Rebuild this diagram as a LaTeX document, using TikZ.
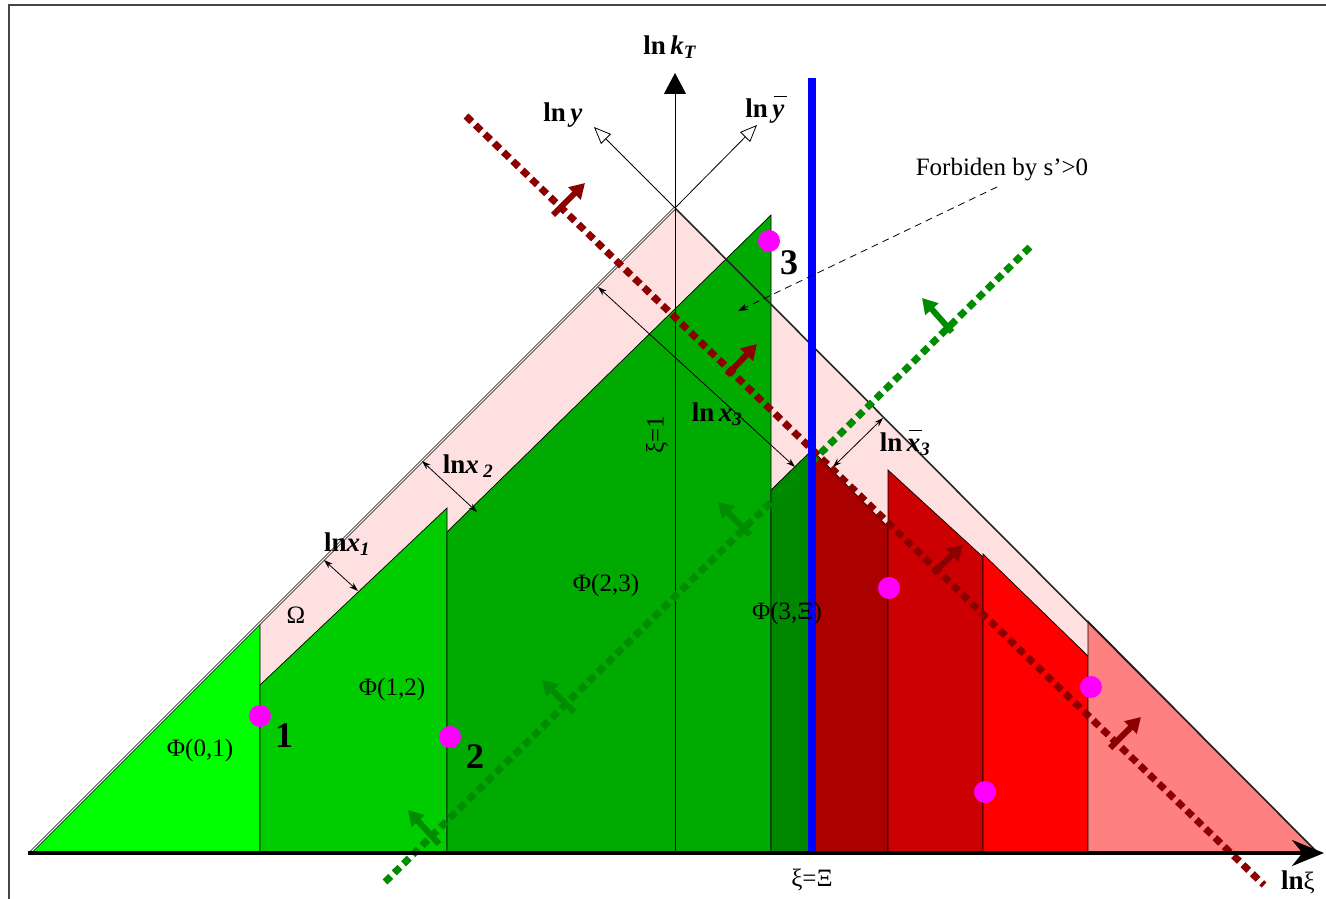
\documentclass[tikz,border=0pt]{standalone}
\usepackage{fontspec}
\setmainfont{Liberation Serif}
\usetikzlibrary{arrows.meta}
\definecolor{pinkband}{RGB}{255,224,224}
\definecolor{gA}{RGB}{0,255,0}
\definecolor{gB}{RGB}{0,204,0}
\definecolor{gC}{RGB}{0,170,0}
\definecolor{gD}{RGB}{0,136,0}
\definecolor{rA}{RGB}{170,0,0}
\definecolor{rB}{RGB}{204,0,0}
\definecolor{rC}{RGB}{255,0,0}
\definecolor{rD}{RGB}{255,128,128}
\definecolor{dred}{RGB}{140,0,0}
\definecolor{dgreen}{RGB}{0,140,0}
\definecolor{dotmag}{RGB}{255,0,255}
\definecolor{framegray}{RGB}{70,70,70}
\newcommand\lnbf{\textbf{ln}}
\newcommand\bi[1]{\textbf{\textit{#1}}}
\newcommand\sbi[1]{\textsubscript{\bi{#1}}}
\newsavebox\obarbox
\newcommand\obar[1]{\sbox\obarbox{#1}\rlap{\hspace{2pt}\raisebox{0.76em}{\rule{\wd\obarbox}{1.2pt}}}\usebox\obarbox}
\begin{document}
\begin{tikzpicture}[x=1pt,y=-1pt,
  every node/.style={font=\fontsize{25}{30}\selectfont, inner sep=0pt},
  boldlabel/.style={font=\fontsize{27}{32}\selectfont},
  region/.style={draw=black, line width=0.7pt},
  measure/.style={line width=0.8pt, {Stealth[length=9pt,width=6pt]}-{Stealth[length=9pt,width=6pt]}},
  dashedred/.style={dred, line width=7pt, dash pattern=on 8pt off 5pt},
  dashedgreen/.style={dgreen, line width=7pt, dash pattern=on 8pt off 5pt},
  redarrow/.style={dred, line width=6pt, -{Triangle[length=15pt,width=17pt]}},
  greenarrow/.style={dgreen, line width=6pt, -{Triangle[length=15pt,width=17pt]}},
  openarrow/.style={line width=0.8pt, -{Triangle[open,length=17pt,width=14pt]}},
  dot/.style={fill=dotmag},
  bignum/.style={font=\fontsize{36}{40}\selectfont\bfseries}]
\useasboundingbox (0,0) rectangle (1326,899);
\fill[white] (0,0) rectangle (1326,899);
% frame
\draw[framegray, line width=2pt] (9,899) -- (9,5) -- (1326,5);

% pink triangle
\fill[pinkband] (30,853) -- (675,208) -- (1318,853) -- cycle;

% regions
\filldraw[region, fill=gA] (30,853) -- (260,623) -- (260,853) -- cycle;
\filldraw[region, fill=gB] (260,853) -- (260,685) -- (447,508) -- (447,853) -- cycle;
\filldraw[region, fill=gC] (447,853) -- (447,532) -- (771,215) -- (771,853) -- cycle;
\filldraw[region, fill=gD] (771,853) -- (771,490) -- (812,450) -- (812,853) -- cycle;
\filldraw[region, fill=rA] (812,853) -- (812,450) -- (888,527) -- (888,853) -- cycle;
\filldraw[region, fill=rB] (888,853) -- (888,470) -- (983,557) -- (983,853) -- cycle;
\filldraw[region, fill=rC] (983,853) -- (983,554) -- (1088,656) -- (1088,853) -- cycle;
\filldraw[region, fill=rD] (1088,853) -- (1088,621) -- (1318,853) -- cycle;

% triangle edges
\draw[black!85, line width=1.6pt] (675,208) -- (1318,853);
\draw[black, line width=0.7pt, double=white, double distance=1.2pt] (30,853) -- (675,208);

% vertical axis (xi = 1 line)
\draw[line width=1pt, -{Triangle[length=21pt,width=22pt]}] (675,853) -- (675,73);

% ln y, ln ybar axes
\coordinate (apex) at (675,208);
\coordinate (ytip) at (594,127);
\coordinate (ybtip) at (757,125);
\draw[openarrow] (apex) -- (ytip);
\draw[openarrow] (apex) -- (ybtip);

% measurement arrows
\draw[measure] (324,560) -- (358,591);
\draw[measure] (422,461) -- (477,512);
\draw[measure] (598,287) -- (795,467);
\draw[measure] (833,467) -- (883,418);

% dotted lines
\draw[dashedred] (466,116) -- (1264,885);
\draw[dashedgreen] (385,882) -- (1030,247);

% arrows across dotted lines
\draw[redarrow] (553,215) -- (585,183);
\draw[redarrow] (727,375) -- (757,344);
\draw[redarrow] (933,573) -- (963,545);
\draw[redarrow] (1110,748) -- (1141,717);
\draw[greenarrow] (952,332) -- (922,298);
\draw[greenarrow] (750,535) -- (718,502);
\draw[greenarrow] (574,712) -- (542,680);
\draw[greenarrow] (439,844) -- (408,810);

% blue line
\draw[blue, line width=8pt] (812,78) -- (812,853);

% horizontal axis
\draw[line width=4pt, -{Stealth[length=32pt,width=26pt]}] (28,853) -- (1324,853);

% forbidden arrow
\draw[line width=0.8pt, dash pattern=on 7pt off 5pt, -{Stealth[length=10pt,width=7pt]}] (997,187) -- (738,311);

% dots
\fill[dot] (260,716) circle (11pt);
\fill[dot] (450,737) circle (11pt);
\fill[dot] (769,241) circle (11pt);
\fill[dot] (889,588) circle (11pt);
\fill[dot] (1091,687) circle (11pt);
\fill[dot] (985,792) circle (11pt);

% labels
\node[boldlabel] (lkt) at (670,47) {\lnbf\,\bi{k}\sbi{T}};
\node[boldlabel] (ly) at (563,115) {\lnbf\,\bi{y}};
\node[boldlabel] (lyb) at (765,110) {\lnbf\,\obar{\bi{y}}};
\node[boldlabel] (lx1) at (347,544) {\lnbf\bi{x}\sbi{1}};
\node[boldlabel] (lx2) at (468,466) {\lnbf\bi{x}\,\sbi{2}};
\node[boldlabel] (lx3) at (717,414) {\lnbf\,\bi{x}\sbi{3}};
\node[boldlabel] (lx3b) at (905,443) {\lnbf\,\obar{\bi{x}}\sbi{3}};
\node (om) at (296,615) {Ω};
\node (p01) at (200,750) {Φ(0,1)};
\node (p12) at (392,689) {Φ(1,2)};
\node (p23) at (606,585) {Φ(2,3)};
\node (p3X) at (787,613) {Φ(3,Ξ)};
\node[bignum] (n1) at (284,736) {1};
\node[bignum] (n2) at (475,757) {2};
\node[bignum] (n3) at (789,263) {3};
\node[rotate=90] (xi1) at (657,435) {ξ=1};
\node (xiX) at (812,880) {ξ=Ξ};
\node[boldlabel] (lnxi) at (1298,882) {\lnbf{\fontsize{25}{30}\selectfont ξ}};
\node (forb) at (1002,170) {Forbiden by s’>0};
\end{tikzpicture}
\end{document}
